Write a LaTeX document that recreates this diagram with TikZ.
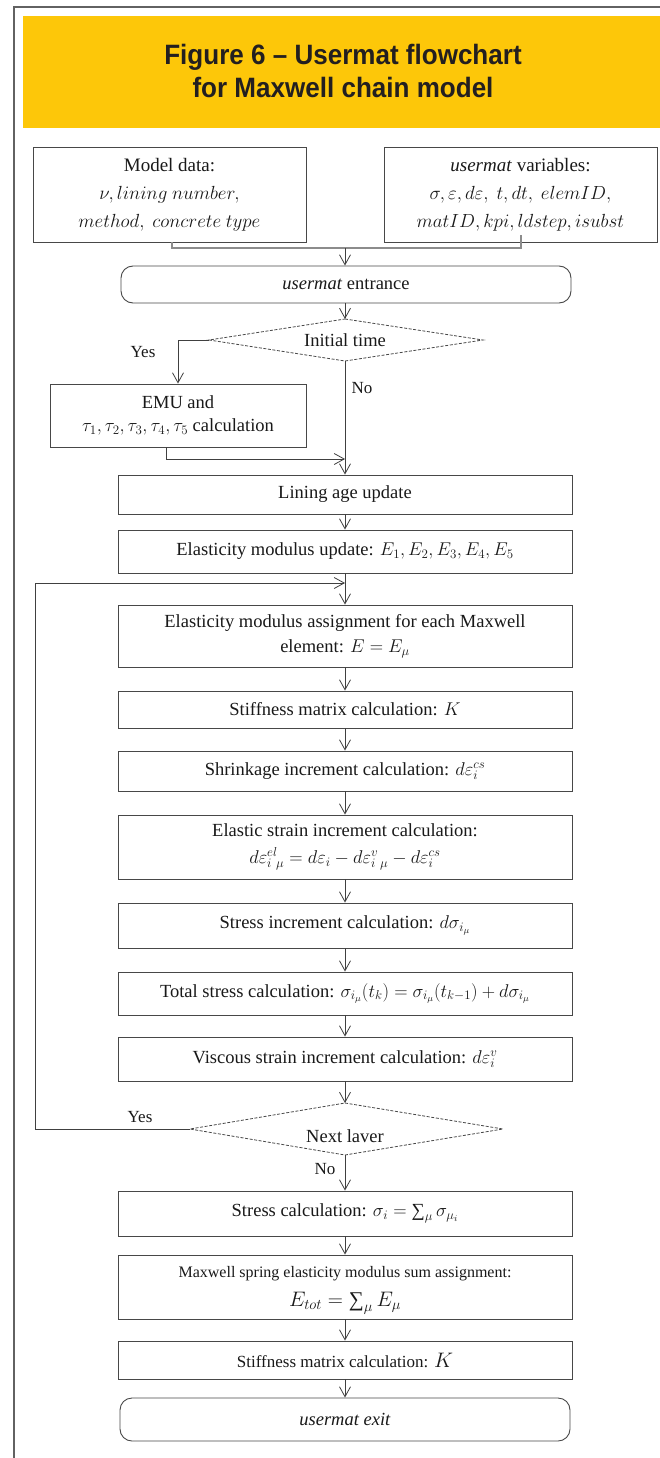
\RequirePackage{fix-cm}
\documentclass[tikz,border=0pt]{standalone}
\usepackage{amsmath}
\usepackage{fontspec}
\setmainfont{Liberation Serif}
\newfontfamily\headfont{Liberation Sans}[FakeStretch=0.93]
\usetikzlibrary{arrows.meta,calc}
\definecolor{banner}{RGB}{253,199,9}
\definecolor{framegrey}{RGB}{98,98,98}
\definecolor{boxline}{RGB}{72,72,72}
\definecolor{ink}{RGB}{35,31,32}
% summation sign taken from the text font
\newcommand{\tsum}{\mathop{\text{∑}}\nolimits}

\begin{document}
\begin{tikzpicture}[x=1pt,y=-1pt,
  box/.style={draw=boxline, line width=0.9pt, fill=white, minimum width=454pt,
    inner sep=2pt, align=center, text=black!90,
    font=\fontsize{18.5}{25}\selectfont},
  inbox/.style={box, minimum width=273pt, font=\fontsize{19}{28}\selectfont},
  term/.style={box, rounded corners=12pt, minimum width=450pt},
  diam/.style={draw=boxline, line width=0.8pt, dash pattern=on 3pt off 1.6pt},
  lbl/.style={inner sep=0pt, text=black!90, font=\fontsize{18.5}{22}\selectfont},
  small/.style={inner sep=0pt, text=black!90, font=\fontsize{17}{20}\selectfont},
  flow/.style={draw=black!75, line width=0.8pt, -{Straight Barb[length=10pt,width=11pt,line width=0.8pt]}},
  link/.style={draw=black!75, line width=0.8pt},
  feed/.style={draw=black!45, line width=1.2pt},
  headline/.style={anchor=base, inner sep=0pt, text=ink,
    font=\headfont\bfseries\fontsize{28}{33}\selectfont}
]
\useasboundingbox (0,0) rectangle (660,1458);
\fill[white] (0,0) rectangle (660,1458);

% page frame and heading band
\draw[framegrey, line width=2pt] (14,1460) -- (14,7) -- (662,7);
\fill[banner] (23,16) rectangle (660,128);
\node[headline] (title1) at (343,65) {Figure 6 – Usermat flowchart};
\node[headline] (title2) at (343,98) {for Maxwell chain model};

% input boxes
\node[inbox, minimum height=95pt] (model) at (169.5,194.5)
  {Model data:\\ $\nu, lining\ number,$\\ $method,\ concrete\ type$};
\node[inbox, minimum height=95pt] (vars) at (520.5,194.5)
  {\textit{usermat} variables:\\ $\sigma,\varepsilon,d\varepsilon,\ t,dt,\ elemID,$\\ $matID,kpi,ldstep,isubst$};

% main column
\node[term, minimum height=37pt] (entrance) at (346,284.5) {\textit{usermat} entrance};
\node[box, minimum width=256pt, minimum height=63pt, font=\fontsize{18.5}{23}\selectfont]
  (emu) at (178,415.5) {EMU and\\ $\tau_1,\tau_2,\tau_3,\tau_4,\tau_5$ calculation};
\node[box, minimum height=39pt] (lining) at (345,494.5) {Lining age update};
\node[box, minimum height=43pt] (elmod) at (345,551.5)
  {Elasticity modulus update: $E_1,E_2,E_3,E_4,E_5$};
\node[box, minimum height=62pt] (assign) at (345,636)
  {Elasticity modulus assignment for each Maxwell\\ element: $E=E_\mu$};
\node[box, minimum height=37pt] (stiffA) at (345,709.5) {Stiffness matrix calculation: $K$};
\node[box, minimum height=40pt] (shrink) at (345,771)
  {Shrinkage increment calculation: $d\varepsilon_i^{cs}$};
\node[box, minimum height=64pt, font=\fontsize{18.5}{27}\selectfont] (elastic) at (345,847)
  {Elastic strain increment calculation:\\
   $d\varepsilon_{i\ \mu}^{el}=d\varepsilon_i-d\varepsilon_{i\ \mu}^{v}-d\varepsilon_i^{cs}$};
\node[box, minimum height=45pt] (stressinc) at (345,925.5)
  {Stress increment calculation: $d\sigma_{i_\mu}$};
\node[box, minimum height=43pt] (total) at (345,993.5)
  {Total stress calculation: $\sigma_{i_\mu}(t_k)=\sigma_{i_\mu}(t_{k-1})+d\sigma_{i_\mu}$};
\node[box, minimum height=44pt] (viscous) at (345,1059)
  {Viscous strain increment calculation: $d\varepsilon_i^{v}$};
\node[box, minimum height=45pt] (stresscalc) at (345,1213.5)
  {Stress calculation: $\sigma_i=\tsum_\mu\sigma_{\mu_i}$};
\node[box, minimum height=64pt] (maxwell) at (345,1287) {};
\node[inner sep=0pt, text=black!90, font=\fontsize{16}{18}\selectfont] (maxwellA) at (345,1274)
  {Maxwell spring elasticity modulus sum assignment:};
\node[inner sep=0pt, text=black!90, font=\fontsize{21}{22}\selectfont] (maxwellB) at (345,1303)
  {$E_{tot}=\tsum_\mu E_\mu$};
\node[box, minimum height=38pt, font=\fontsize{17}{22}\selectfont] (stiffB) at (345,1360)
  {Stiffness matrix calculation: {\fontsize{21}{22}\selectfont$K$}};
\node[term, minimum height=43pt] (exit) at (345,1419.5) {\textit{usermat exit}};

% decision: initial time
\coordinate (d1n) at (345,319);
\coordinate (d1e) at (483,340);
\coordinate (d1s) at (345,361);
\coordinate (d1w) at (209,340);
\draw[diam] (d1n) -- (d1e) -- (d1s) -- (d1w) -- cycle;
\node[lbl] (d1) at (345,340) {Initial time};

% decision: next layer
\coordinate (d2n) at (345,1103);
\coordinate (d2e) at (503,1129);
\coordinate (d2s) at (345,1155);
\coordinate (d2w) at (190,1129);
\draw[diam] (d2n) -- (d2e) -- (d2s) -- (d2w) -- cycle;
\node[lbl] (d2) at (345,1136) {Next laver};

% inputs merge into the entrance
\coordinate (mdout) at (172,242);
\coordinate (mdbend) at (172,248);
\coordinate (vout) at (521,235);
\coordinate (vbend) at (521,248);
\coordinate (fork) at (345,248);
\draw[feed] (mdout) -- (mdbend) -- (vbend) -- (vout);
\draw[flow] (fork) -- (fork |- entrance.north);

\draw[flow] (entrance.south -| d1n) -- (d1n);

% initial time branches
\coordinate (yesbend) at (178,340);
\draw[flow] (d1w) -- (yesbend) -- (emu.north);
\node[small] (yes1) at (143,352) {Yes};
\draw[flow] (d1s) -- (lining.north);
\node[small] (no1) at (362,388) {No};
\coordinate (emuout) at (166,447);
\coordinate (merge) at (345,459);
\draw[flow] (emuout) |- (merge);

% straight chain
\draw[flow] (lining.south) -- (elmod.north);
\draw[flow] (elmod.south) -- (assign.north);
\draw[flow] (assign.south) -- (stiffA.north);
\draw[flow] (stiffA.south) -- (shrink.north);
\draw[flow] (shrink.south) -- (elastic.north);
\draw[flow] (elastic.south) -- (stressinc.north);
\draw[flow] (stressinc.south) -- (total.north);
\draw[flow] (total.south) -- (viscous.north);
\draw[flow] (viscous.south) -- (d2n);

% layer loop
\coordinate (loopB) at (35,1129);
\coordinate (loopT) at (35,583);
\coordinate (join) at (345,583);
\draw[link] (d2w) -- (loopB) -- (loopT);
\draw[flow] (loopT) -- (join);
\node[small] (yes2) at (140,1117) {Yes};
\draw[flow] (d2s) -- (stresscalc.north);
\node[small] (no2) at (325,1169) {No};

\draw[flow] (stresscalc.south) -- (maxwell.north);
\draw[flow] (maxwell.south) -- (stiffB.north);
\draw[flow] (stiffB.south) -- (exit.north);
\end{tikzpicture}
\end{document}
